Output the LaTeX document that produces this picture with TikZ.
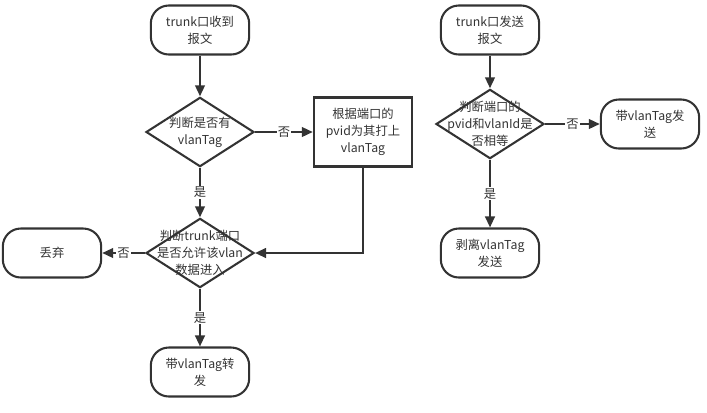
\documentclass[tikz,border=0pt]{standalone}
\usepackage{fontspec}
\setmainfont{Noto Sans CJK SC}
\usepackage{xcolor}
\usetikzlibrary{arrows.meta, shapes.geometric}
\definecolor{ink}{HTML}{333333}

\begin{document}
\begin{tikzpicture}[x=0.03cm, y=-0.03cm,
	font=\fontsize{10.5}{14.5}\selectfont, text=ink,
	term/.style={draw=ink, line width=0.62mm, rounded corners=5.4mm, minimum width=29.5mm, minimum height=14.7mm, align=center},
	proc/.style={draw=ink, line width=0.62mm, minimum width=29.5mm, minimum height=20.7mm, align=center},
	dec/.style={draw=ink, line width=0.62mm, diamond, inner sep=0pt, minimum width=32.4mm, minimum height=20.8mm},
	txt/.style={align=center, inner sep=0pt},
	lbl/.style={fill=white, inner sep=1pt, pos=0.5}]
					\useasboundingbox (0,0) rectangle (707,412);
					
					\node [term] (recv) at (200,30) {trunk口收到\\报文};
					\node [dec, label={[txt]center:判断是否有\\vlanTag}] (hasTag) at (200,132) {};
					\node [proc] (addTag) at (363,132) {根据端口的\\pvid为其打上\\vlanTag};
					\node [dec, label={[txt]center:判断trunk端口\\是否允许该vlan\\数据进入}] (allow) at (200,253) {};
					\node [term] (drop) at (52,253) {丢弃};
					\node [term] (fwd) at (200,372) {带vlanTag转\\发};
					
					\node [term] (send) at (490,30) {trunk口发送\\报文};
					\node [dec, label={[txt]center:判断端口的\\pvid和vlanId是\\否相等}] (same) at (490,124) {};
					\node [term] (sendTag) at (650,124) {带vlanTag发\\送};
					\node [term] (strip) at (490,253) {剥离vlanTag\\发送};
					
					\begin{scope}[draw=ink, line width=0.62mm, -{Triangle[length=3.3mm, width=2.9mm]}]
						\draw (recv) -- (hasTag);
						\draw (hasTag) -- node [lbl] {否} (addTag);
						\draw (hasTag) -- node [lbl] {是} (allow);
						\draw (addTag) |- (allow);
						\draw (allow) -- node [lbl] {否} (drop);
						\draw (allow) -- node [lbl] {是} (fwd);
						
						\draw (send) -- (same);
						\draw (same) -- node [lbl] {否} (sendTag);
						\draw (same) -- node [lbl] {是} (strip);
					\end{scope}
				\end{tikzpicture}
\end{document}
